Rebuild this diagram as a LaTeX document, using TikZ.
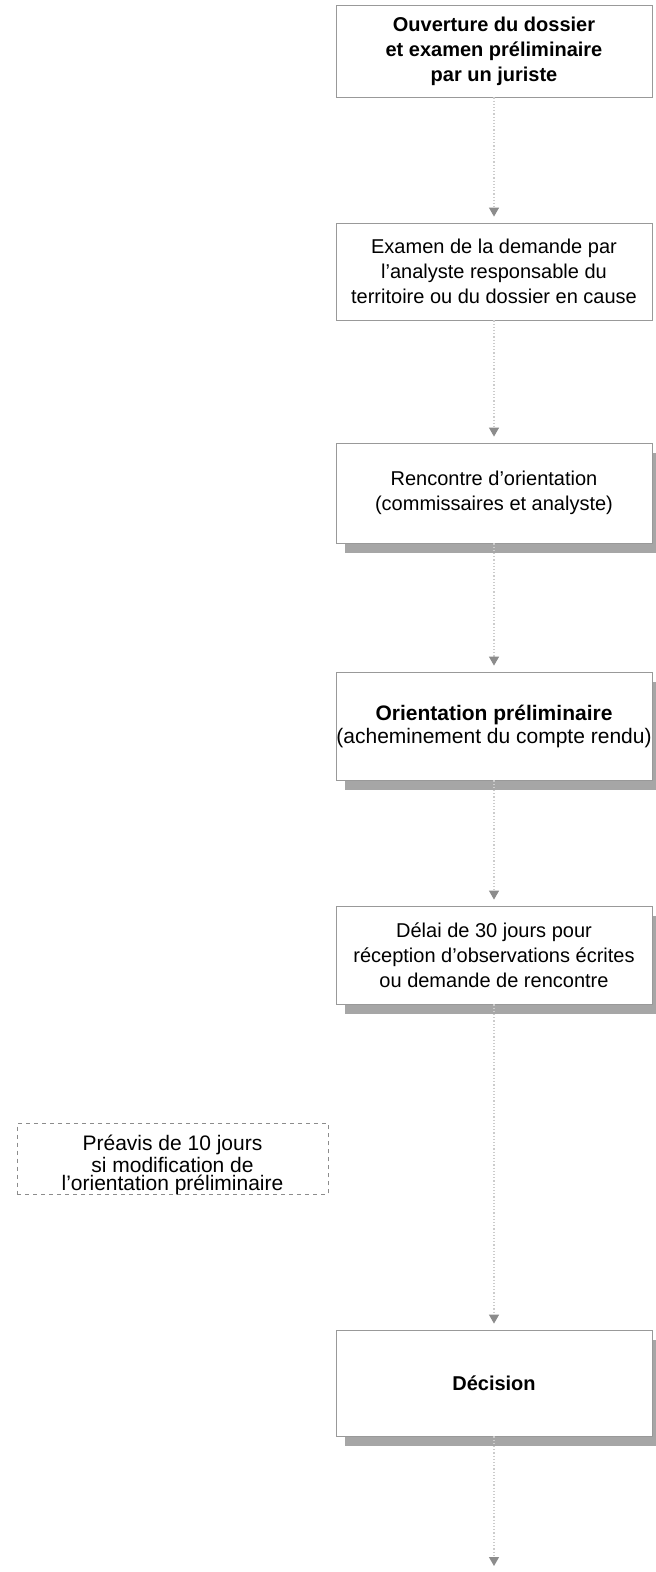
\documentclass[tikz,border=0pt]{standalone}
\usepackage{fontspec}
\setmainfont{Liberation Sans}
\usetikzlibrary{arrows.meta,shadows}

\begin{document}
\begin{tikzpicture}[x=0.5pt, y=-0.5pt,
    etape/.style={shape=rectangle, draw=black!40, line width=0.4pt, fill=white, inner sep=0pt,
        minimum width=158pt, align=center, font=\fontsize{10}{12.5}\selectfont},
    ombre/.style={drop shadow={shadow xshift=4.5pt, shadow yshift=-5pt, fill=black!35, opacity=1}},
    avis/.style={etape, draw=black!45, dash pattern=on 2pt off 2pt, minimum width=155.5pt},
    fleche/.style={draw=black!20, densely dotted, line width=0.6pt, shorten >=3pt,
        -{Triangle[width=5pt, length=4.5pt, color=black!45]}}]
    \useasboundingbox (0,0) rectangle (655,1572);
    \node[etape, minimum height=46pt] at (494,51) (ouverture) {\textbf{Ouverture du dossier}\\ \textbf{et examen préliminaire}\\ \textbf{par un juriste}};
    \node[etape, minimum height=48.5pt] at (494,271.5) (examen) {Examen de la demande par\\ l’analyste responsable du\\ territoire ou du dossier en cause};
    \node[etape, ombre, minimum height=50pt] at (494,493) (rencontre) {Rencontre d’orientation\\ (commissaires et analyste)};
    \node[etape, ombre, minimum height=54pt, font=\fontsize{10.5}{11.5}\selectfont] at (494,726) (orientation) {\textbf{Orientation préliminaire}\\ (acheminement du compte rendu)};
    \node[etape, ombre, minimum height=49pt] at (494,955) (delai) {Délai de 30 jours pour\\ réception d’observations écrites\\ ou demande de rencontre};
    \node[avis, minimum height=34pt, font=\fontsize{10.5}{9}\selectfont] at (172.5,1159) (preavis) {\rule{0pt}{13.5pt}Préavis de 10 jours\\ si modification de\\ l’orientation préliminaire};
    \node[etape, ombre, minimum height=53pt] at (494,1383) (decision) {\textbf{Décision}};
    \coordinate (fin) at (494,1572);
    \draw[fleche] (ouverture) -- (examen);
    \draw[fleche] (examen) -- (rencontre);
    \draw[fleche] (rencontre) -- (orientation);
    \draw[fleche] (orientation) -- (delai);
    \draw[fleche] (delai) -- (decision);
    \draw[fleche] (decision) -- (fin);
\end{tikzpicture}
\end{document}
